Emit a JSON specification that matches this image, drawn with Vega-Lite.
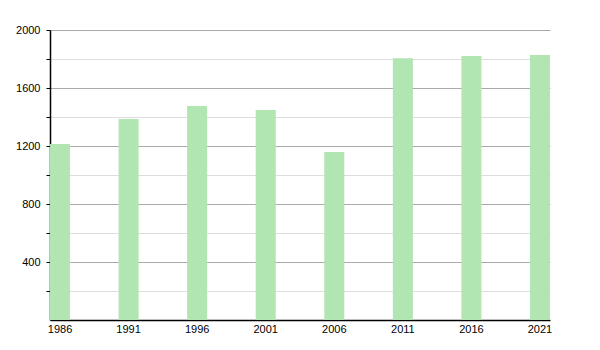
{
  "$schema": "https://vega.github.io/schema/vega-lite/v6.json",
  "autosize": "none",
  "width": 500,
  "height": 290,
  "padding": {"left": 50, "top": 30, "right": 50, "bottom": 30},
  "background": "white",
  "config": {
    "view": {"stroke": null},
    "font": "Liberation Sans"
  },
  "data": {
    "values": [
      {"year": "1986", "pop": 1214},
      {"year": "1991", "pop": 1386},
      {"year": "1996", "pop": 1476},
      {"year": "2001", "pop": 1448},
      {"year": "2006", "pop": 1159},
      {"year": "2011", "pop": 1805},
      {"year": "2016", "pop": 1821},
      {"year": "2021", "pop": 1828}
    ]
  },
  "mark": {"type": "bar", "color": "#b1e5b1"},
  "encoding": {
    "x": {
      "field": "year",
      "type": "ordinal",
      "scale": {"paddingInner": 0.708, "paddingOuter": 0},
      "axis": {
        "title": null,
        "labelAngle": 0,
        "ticks": false,
        "domainColor": "#000",
        "domainWidth": 1.5,
        "labelColor": "#000",
        "labelFontSize": 11,
        "labelPadding": 3
      }
    },
    "y": {
      "field": "pop",
      "type": "quantitative",
      "scale": {"domain": [0, 2000], "nice": false},
      "axis": {
        "title": null,
        "values": [200, 400, 600, 800, 1000, 1200, 1400, 1600, 1800, 2000],
        "labelExpr": "datum.value % 400 === 0 ? datum.label : ''",
        "format": "d",
        "grid": true,
        "gridColor": {"condition": {"test": "datum.value % 400 === 0", "value": "#aaaaaa"}, "value": "#dddddd"},
        "gridWidth": 1,
        "domainColor": "#000",
        "domainWidth": 1.5,
        "tickColor": "#000",
        "tickSize": 4,
        "labelColor": "#000",
        "labelFontSize": 11,
        "labelPadding": 6
      }
    }
  }
}
